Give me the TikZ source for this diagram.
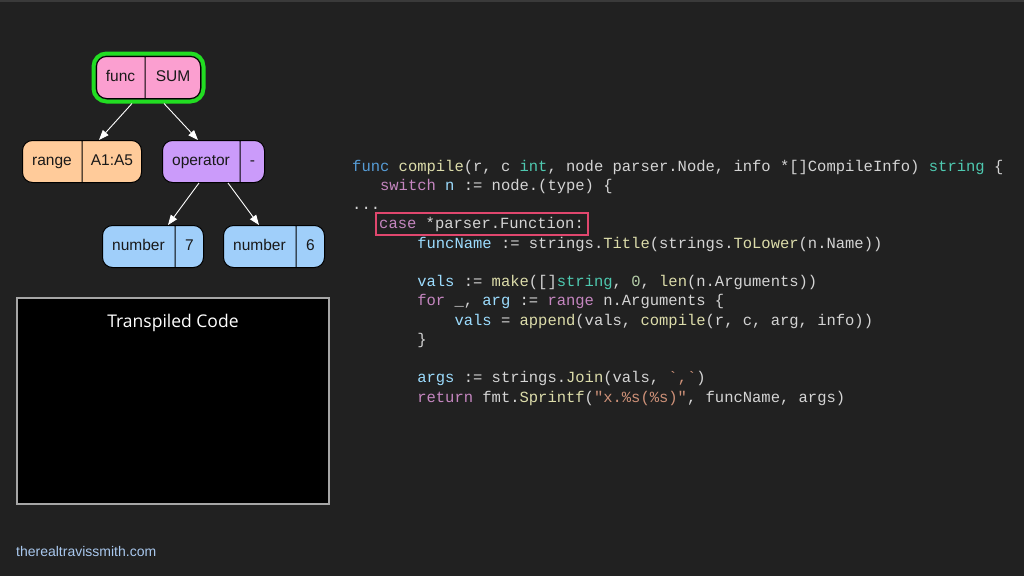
\documentclass[tikz,border=0pt]{standalone}
\usepackage{fontspec}
\setmainfont{Liberation Sans}
\setmonofont{Liberation Mono}
\newfontfamily\panelfont{Open Sans}
\usepackage{tikz}
\usetikzlibrary{arrows.meta, positioning, shapes.multipart, fit}

\definecolor{bgdark}{HTML}{212121}
\definecolor{topstrip}{HTML}{3A3A3A}
\definecolor{recpink}{HTML}{FB9FD0}
\definecolor{recorange}{HTML}{FFCB9A}
\definecolor{recpurple}{HTML}{CB9BFA}
\definecolor{recblue}{HTML}{A0CFFA}
\definecolor{ringgreen}{HTML}{22DD22}
\definecolor{hlred}{HTML}{E0476E}
\definecolor{codeplain}{HTML}{D4D4D4}
\definecolor{codekw}{HTML}{569CD6}
\definecolor{codefn}{HTML}{DCDCAA}
\definecolor{codety}{HTML}{4EC9B0}
\definecolor{codectl}{HTML}{C586C0}
\definecolor{codevar}{HTML}{9CDCFE}
\definecolor{codenum}{HTML}{B5CEA8}
\definecolor{codestr}{HTML}{CE9178}
\definecolor{linkblue}{HTML}{A9C8EE}

\newcommand{\ckw}[1]{\textcolor{codekw}{#1}}
\newcommand{\cfn}[1]{\textcolor{codefn}{#1}}
\newcommand{\cty}[1]{\textcolor{codety}{#1}}
\newcommand{\cctl}[1]{\textcolor{codectl}{#1}}
\newcommand{\cvar}[1]{\textcolor{codevar}{#1}}
\newcommand{\cnum}[1]{\textcolor{codenum}{#1}}
\newcommand{\cstr}[1]{\textcolor{codestr}{#1}}
\newcommand{\indt}[1]{\hspace*{#1\fontcharwd\font`x}}
\newcommand{\cellbox}[2]{\makebox[#1pt]{\strut #2}}

\tikzset{
    rec/.style={rectangle split, rectangle split horizontal, rectangle split parts=2,
        draw=black, line width=1pt, rounded corners=10pt, inner xsep=0pt, inner ysep=0pt,
        minimum height=42pt, anchor=north west, text=black!90,
        font=\fontsize{15.5}{18.6}\selectfont},
    pinkrec/.style={rec, fill=recpink},
    orangerec/.style={rec, fill=recorange},
    purplerec/.style={rec, fill=recpurple},
    bluerec/.style={rec, fill=recblue},
    ring/.style={draw=ringgreen, line width=4pt, rounded corners=13pt, inner sep=2.5pt},
    arrow/.style={-{Triangle[length=10pt, width=7.5pt]}, white, line width=0.9pt},
    code/.style={anchor=base west, inner sep=0pt, text=codeplain,
        font=\ttfamily\fontsize{15.5}{19.25}\selectfont, text height=12.5pt, text depth=3.5pt},
    hlbox/.style={draw=hlred, line width=2pt, inner xsep=3.5pt, inner ysep=3pt},
    outbox/.style={fill=black, draw=black!35!white, line width=1.5pt,
        minimum width=312pt, minimum height=206pt, inner sep=0pt},
}

\begin{document}
\begin{tikzpicture}[x=1pt, y=-1pt]
    \fill[bgdark] (0,0) rectangle (1024,576);
    \fill[topstrip] (0,0) rectangle (1024,2);

    % syntax tree
    \node[pinkrec] (sum) at (96,56) {\cellbox{48}{func}\nodepart{two}\cellbox{55}{SUM}};
    \node[ring, fit=(sum)] (sumring) {};
    \node[orangerec] (range) at (22,140) {\cellbox{59}{range}\nodepart{two}\cellbox{59}{A1:A5}};
    \node[purplerec] (operator) at (162,140) {\cellbox{77}{operator}\nodepart{two}\cellbox{24}{-}};
    \node[bluerec] (num7) at (102,225) {\cellbox{72}{number}\nodepart{two}\cellbox{28}{7}};
    \node[bluerec] (num6) at (223,225) {\cellbox{72}{number}\nodepart{two}\cellbox{28}{6}};
    \draw[arrow] ([xshift=-16.5pt]sumring.south) -- ([xshift=17pt]range.north);
    \draw[arrow] ([xshift=15.5pt]sumring.south) -- ([xshift=-15.5pt]operator.north);
    \draw[arrow] ([xshift=-14.5pt]operator.south) -- ([xshift=15pt]num7.north);
    \draw[arrow] ([xshift=14.5pt]operator.south) -- ([xshift=-15pt]num6.north);

    % output pane
    \node[outbox] (outpane) at (173,401) {};
    \node[anchor=base, text=white, font=\panelfont\fontsize{17.5}{21}\selectfont] (panetitle) at (173,327) {Transpiled Code};

    % source code
    \node[code] (code1) at (352,171) {\ckw{func} \cfn{compile}(r, c \cty{int}, node parser.Node, info *[]CompileInfo) \cty{string} \{};
    \node[code] (code2) at (352,190.25) {\indt{3}\cctl{switch} \cvar{n} := node.(type) \{};
    \node[code] (code3) at (352,209.5) {...};
    \node[code] (code4) at (379,228.75) {\cctl{case} *parser.Function:};
    \node[hlbox, fit=(code4)] (casebox) {};
    \node[code] (code5) at (352,248) {\indt{7}\cvar{funcName} := strings.\cfn{Title}(strings.\cfn{ToLower}(n.Name))};
    \node[code] (code7) at (352,286.5) {\indt{7}\cvar{vals} := \cfn{make}([]\cty{string}, \cnum{0}, \cfn{len}(n.Arguments))};
    \node[code] (code8) at (352,305.75) {\indt{7}\cctl{for} \_, \cvar{arg} := \cctl{range} n.Arguments \{};
    \node[code] (code9) at (352,325) {\indt{11}\cvar{vals} = \cfn{append}(vals, \cfn{compile}(r, c, arg, info))};
    \node[code] (code10) at (352,344.25) {\indt{7}\}};
    \node[code] (code12) at (352,382.75) {\indt{7}\cvar{args} := strings.\cfn{Join}(vals, \cstr{`,`})};
    \node[code] (code13) at (352,402) {\indt{7}\cctl{return} fmt.\cfn{Sprintf}(\cstr{"x.\%s(\%s)"}, funcName, args)};

    % footer
    \node[anchor=base west, inner sep=0pt, text=linkblue, font=\fontsize{14}{17}\selectfont] (site) at (16,556) {therealtravissmith.com};
\end{tikzpicture}
\end{document}
